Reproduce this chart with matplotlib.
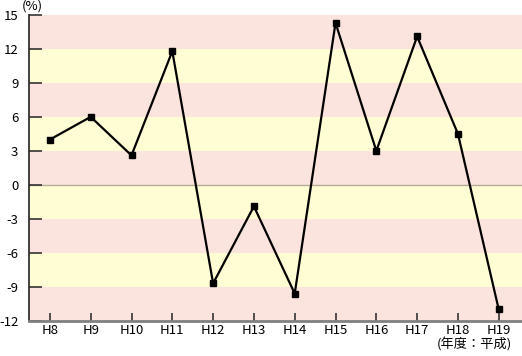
import matplotlib
matplotlib.use("Agg")
import matplotlib.pyplot as plt

plt.rcParams['font.family'] = ['Noto Sans CJK JP', 'DejaVu Sans']

categories = ["H8", "H9", "H10", "H11", "H12", "H13", "H14", "H15", "H16", "H17", "H18", "H19"]
values = [4.0, 6.0, 2.6, 11.8, -8.7, -1.9, -9.6, 14.3, 3.0, 13.1, 4.5, -11.0]
yticks = [15, 12, 9, 6, 3, 0, -3, -6, -9, -12]

pink = "#FAE4DD"
yellow = "#FFFDD4"

fig = plt.figure(figsize=(5.22, 3.56), dpi=100)
ax = fig.add_axes([0.0565, 0.099, 0.9435, 0.859])

x = list(range(len(categories)))
ax.set_xlim(-0.5, 11.57)
ax.set_ylim(-12, 15)

# alternating bands
for i, lo in enumerate(range(-12, 15, 3)):
    col = pink if i % 2 == 0 else yellow
    ax.axhspan(lo, lo + 3, color=col, lw=0, zorder=0)
ax.axhline(0, color="#B5AD95", lw=1.0, zorder=1)

ax.plot(x, values, color="black", lw=1.6, marker="s", markersize=5,
        markerfacecolor="black", markeredgecolor="black", zorder=3)

ax.set_yticks(yticks)
ax.set_yticklabels([str(v) for v in yticks], fontsize=9.5)
ax.set_xticks(x)
ax.set_xticklabels(categories, fontsize=9.5)
ax.tick_params(axis='y', direction='in', length=9, width=1.2, color="#333333", pad=8)
ax.tick_params(axis='x', direction='in', length=6, width=1.2, color="#333333", pad=2)

for s in ["top", "right"]:
    ax.spines[s].set_visible(False)
ax.spines["left"].set_color("#222222")
ax.spines["left"].set_linewidth(1.2)
ax.spines["bottom"].set_color("#808080")
ax.spines["bottom"].set_linewidth(2)

fig.text(0.062, 0.982, "(%)", fontsize=9.5, ha="center", va="center")
fig.text(0.981, 0.031, "(年度：平成)", fontsize=9.5, ha="right", va="center")

fig.savefig("out.png", dpi=100)
